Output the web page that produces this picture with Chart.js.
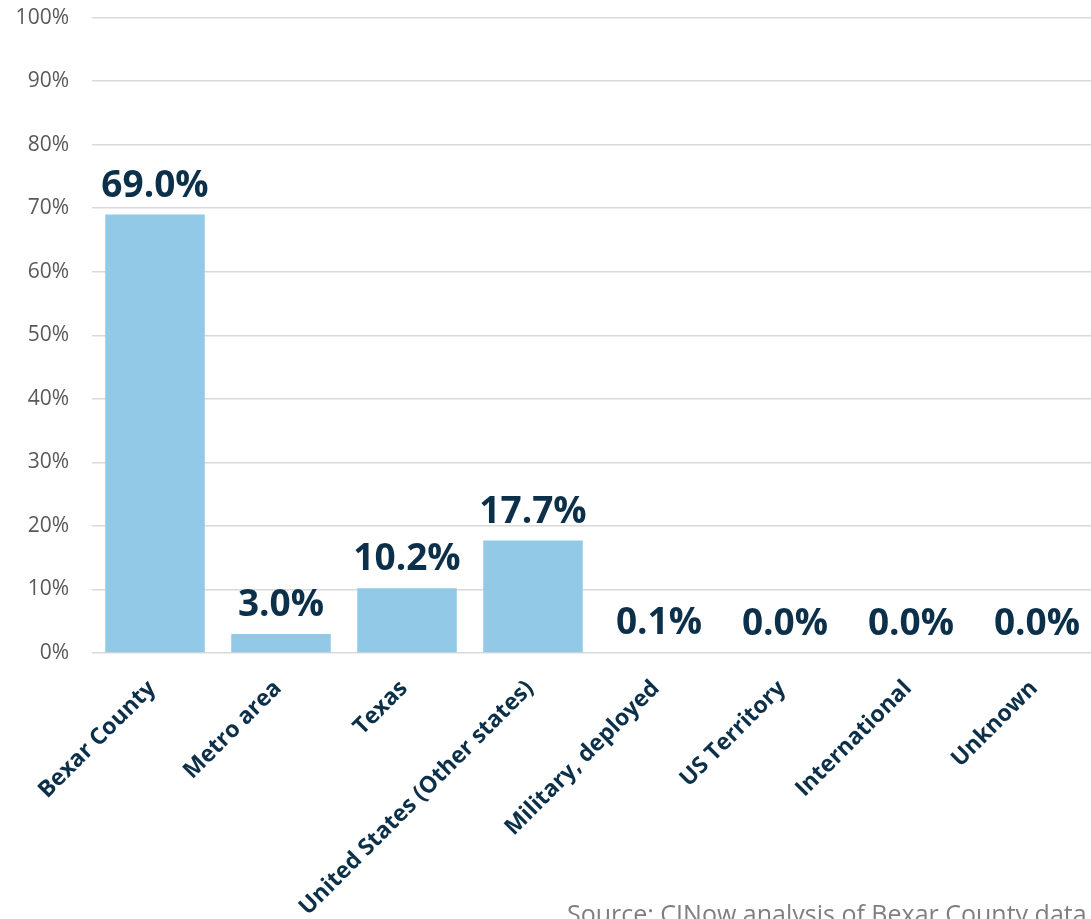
<!DOCTYPE html>
<html>
<head>
<meta charset="utf-8">
<script src="https://cdn.jsdelivr.net/npm/chart.js@4"></script>
<style>
  html, body { margin: 0; padding: 0; background: #fff; overflow: hidden; }
  #wrap { position: relative; width: 1100px; height: 919px; overflow: hidden; }
  #bar-chart { position: absolute; left: 0; top: -18px; }
  #source {
    position: absolute; left: 567px; top: 896px; white-space: nowrap;
    font-family: "Open Sans", sans-serif; font-size: 25px; color: #7f7f7f;
  }
</style>
</head>
<body>
<div id="wrap">
  <canvas id="bar-chart" width="1100" height="937"></canvas>
  <div id="source">Source: CINow analysis of Bexar County data</div>
</div>
<script>
const categories = ["Bexar County", "Metro area", "Texas", "United States (Other states)", "Military, deployed", "US Territory", "International", "Unknown"]
const shares = [69.0, 3.0, 10.2, 17.7, 0.1, 0.0, 0.0, 0.0]
const yTicks = [0, 10, 20, 30, 40, 50, 60, 70, 80, 90, 100]

const navy = '#0c3049'

// value labels above each bar
const valueLabels = {
    id: 'valueLabels',
    afterDatasetsDraw(chart){
        const ctx = chart.ctx
        const meta = chart.getDatasetMeta(0)
        ctx.save()
        ctx.font = 'bold 37px "Open Sans", sans-serif'
        ctx.fillStyle = navy
        ctx.textAlign = 'center'
        ctx.textBaseline = 'bottom'
        meta.data.forEach((bar, i) => {
            ctx.fillText(shares[i].toFixed(1) + '%', bar.x, bar.y - 10)
        })
        ctx.restore()
    }
}

new Chart(document.getElementById('bar-chart'), {
    type: 'bar',
    data: {
        labels: categories,
        datasets: [{
            data: shares,
            backgroundColor: '#92c9e6',
            barPercentage: 0.79,
            categoryPercentage: 1
        }]
    },
    options: {
        responsive: false,
        animation: false,
        layout: { padding: { top: 0, right: 0, left: 0, bottom: 0 } },
        plugins: {
            legend: { display: false },
            tooltip: { enabled: false }
        },
        scales: {
            x: {
                grid: { display: false },
                border: { display: false },
                ticks: {
                    color: navy,
                    font: { family: '"Open Sans", sans-serif', size: 23, weight: 'bold' },
                    minRotation: 45,
                    maxRotation: 45,
                    autoSkip: false,
                    padding: 14,
                    labelOffset: -3
                },
                afterFit(scale){ scale.height = 266 }
            },
            y: {
                min: 0,
                max: 100,
                afterBuildTicks(scale){ scale.ticks = yTicks.map(v => ({ value: v })) },
                grid: { color: '#d9d9d9', lineWidth: 1.5, drawTicks: false },
                border: { display: false },
                ticks: {
                    color: '#595959',
                    font: { family: '"Open Sans", sans-serif', size: 21 },
                    padding: 23,
                    callback: v => v + '%'
                },
                afterFit(scale){ scale.width = 92 }
            }
        }
    },
    plugins: [valueLabels]
})
</script>
</body>
</html>
